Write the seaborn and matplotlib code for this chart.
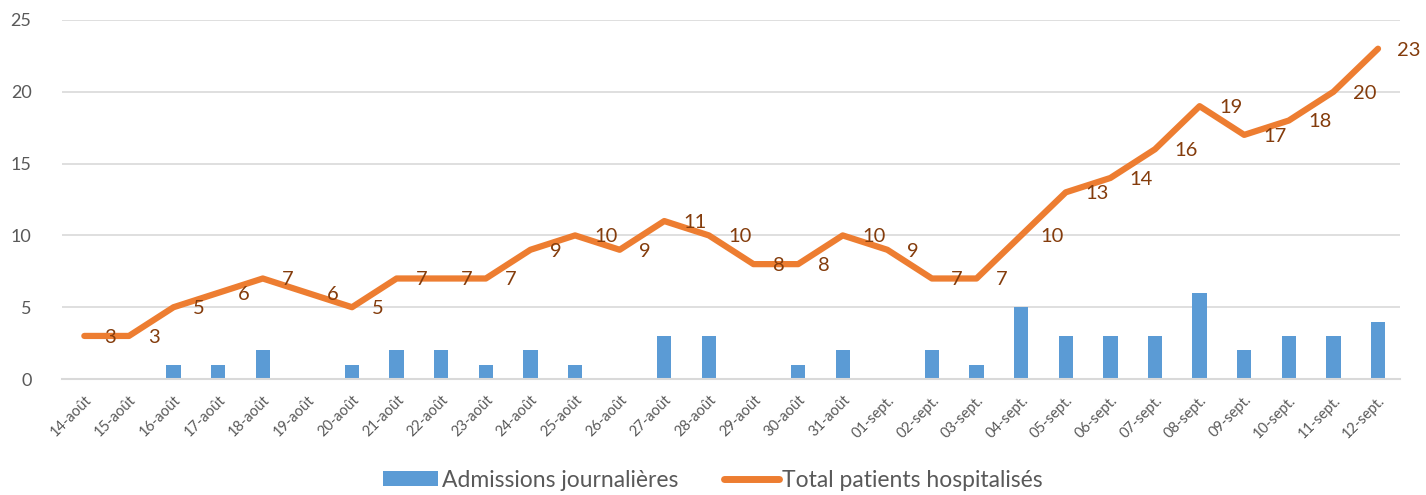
import numpy as np
import pandas as pd
import matplotlib
matplotlib.use("Agg")
import matplotlib.pyplot as plt
import seaborn as sns
from matplotlib.lines import Line2D
from matplotlib.patches import Patch

dates = ["14-août", "15-août", "16-août", "17-août", "18-août", "19-août", "20-août",
         "21-août", "22-août", "23-août", "24-août", "25-août", "26-août", "27-août",
         "28-août", "29-août", "30-août", "31-août", "01-sept.", "02-sept.", "03-sept.",
         "04-sept.", "05-sept.", "06-sept.", "07-sept.", "08-sept.", "09-sept.",
         "10-sept.", "11-sept.", "12-sept."]
admissions = [0, 0, 1, 1, 2, 0, 1, 2, 2, 1, 2, 1, 0, 3, 3, 0, 1, 2, 0, 2, 1,
              5, 3, 3, 3, 6, 2, 3, 3, 4]
total = [3, 3, 5, 6, 7, 6, 5, 7, 7, 7, 9, 10, 9, 11, 10, 8, 8, 10, 9, 7, 7,
         10, 13, 14, 16, 19, 17, 18, 20, 23]

BLUE = "#5b9bd5"
ORANGE = "#ed7d31"
LABEL = "#843c0c"
GRAY = "#595959"


def main():
    df = pd.DataFrame({"date": dates, "admissions": admissions, "total": total})
    df["pos"] = np.arange(len(df))

    sns.set_style("white")
    plt.rcParams["font.family"] = ["Lato", "DejaVu Sans"]

    fig = plt.figure(figsize=(14.26, 4.95), dpi=100)
    ax = fig.add_axes([0.0435, 0.2343, 0.9385, 0.7253])

    sns.barplot(data=df, x="date", y="admissions", color=BLUE, width=0.32,
                saturation=1, linewidth=0, edgecolor="none", ax=ax, zorder=2)
    sns.lineplot(data=df, x="pos", y="total", color=ORANGE, lw=4.5, ax=ax,
                 zorder=3, solid_capstyle="round", solid_joinstyle="round")

    # value labels to the right of each point
    for i, v in enumerate(total):
        ax.annotate(str(v), (i, v), xytext=(14, -1), textcoords="offset points",
                    ha="left", va="center", fontsize=14.5, color=LABEL, zorder=4)

    ax.set_xlim(-0.5, len(dates) - 0.5)
    ax.set_ylim(0, 25)
    ax.set_yticks(range(0, 26, 5))
    ax.grid(axis="y", color="#d9d9d9", lw=1.2, zorder=0)
    ax.set_axisbelow(True)

    ax.set_xticks(range(len(dates)))
    ax.set_xticklabels(dates, rotation=45, ha="right", rotation_mode="anchor",
                       fontsize=10.5, color=GRAY)
    ax.set_xticks(np.arange(-0.5, len(dates), 1), minor=True)
    ax.tick_params(axis="x", which="major", length=0, pad=10)
    ax.tick_params(axis="x", which="minor", length=6, color="#d9d9d9", width=1.2)
    ax.tick_params(axis="y", length=0, labelsize=13, labelcolor=GRAY, pad=22)

    for s in ["top", "right", "left"]:
        ax.spines[s].set_visible(False)
    ax.spines["bottom"].set_color("#d9d9d9")
    ax.spines["bottom"].set_linewidth(1.5)
    ax.set_xlabel("")
    ax.set_ylabel("")

    handles = [Patch(facecolor=BLUE, edgecolor="none"),
               Line2D([0], [0], color=ORANGE, lw=5, solid_capstyle="round")]
    fig.legend(handles, ["Admissions journalières", "Total patients hospitalisés"],
               loc="center", bbox_to_anchor=(0.5, 0.03), ncol=2, frameon=False,
               fontsize=16.5, labelcolor=GRAY, handlelength=2.4, handleheight=0.6,
               handletextpad=0.15, columnspacing=2.0)

    fig.savefig("out.png", dpi=100)


if "__main__" == __name__:
    main()
